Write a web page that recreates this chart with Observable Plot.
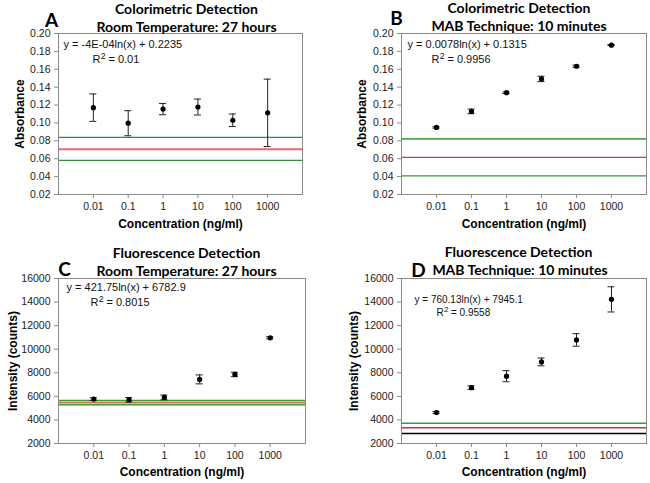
<!DOCTYPE html>
<html><head><meta charset="utf-8">
<script src="https://cdn.jsdelivr.net/npm/d3@7"></script>
<script src="https://cdn.jsdelivr.net/npm/@observablehq/plot@0.6"></script>
<style>
body{margin:0;background:#fff;}
#wrap{position:relative;width:650px;height:483px;overflow:hidden;background:#fff}
.panel{position:absolute}
.panel svg{display:block}
</style></head><body><div id="wrap"></div>
<script>
// ---- data ----
const concentrations = [0.01, 0.1, 1, 10, 100, 1000];
const xTickLabels = ["0.01", "0.1", "1", "10", "100", "1000"];
const absTicks = [0.02, 0.04, 0.06, 0.08, 0.10, 0.12, 0.14, 0.16, 0.18, 0.20];
const intTicks = [2000, 4000, 6000, 8000, 10000, 12000, 14000, 16000];

// A: colorimetric, room temperature
const absRT = [0.1171, 0.0997, 0.1155, 0.1178, 0.1030, 0.1113];
const absRTErr = [0.0153, 0.0140, 0.0063, 0.0089, 0.0070, 0.0377];
const absRTRefs = [0.0838, 0.0706, 0.0582];
// B: colorimetric, MAB
const absMAB = [0.0950, 0.1129, 0.1338, 0.1492, 0.1634, 0.1870];
const absMABErr = [0.0008, 0.0026, 0.0008, 0.0030, 0.0012, 0.0006];
const absMABRefs = [0.0821, 0.0614, 0.0408];
// C: fluorescence, room temperature
const fluRT = [5770, 5710, 5910, 7440, 7860, 10970];
const fluRTErr = [110, 190, 200, 380, 190, 90];
const fluRTRefs = [5660, 5470, 5290];
// D: fluorescence, MAB
const fluMAB = [4630, 6740, 7710, 8920, 10790, 14230];
const fluMABErr = [80, 150, 470, 330, 530, 1070];
const fluMABRefs = [3714, 3343, 2857];

const titles = [
  ["Colorimetric Detection", "Room Temperature: 27 hours"],
  ["Colorimetric Detection", "MAB Technique: 10 minutes"],
  ["Fluorescence Detection", "Room Temperature: 27 hours"],
  ["Fluorescence Detection", "MAB Technique: 10 minutes"]
];
const letters = ["A", "B", "C", "D"];
const equations = ["y = -4E-04ln(x) + 0.2235", "y = 0.0078ln(x) + 0.1315", "y = 421.75ln(x) + 6782.9", "y = 760.13ln(x) + 7945.1"];
const r2Values = ["= 0.01", "= 0.9956", "= 0.8015", "= 0.9558"];
const yLabels = ["Absorbance", "Absorbance", "Intensity (counts)", "Intensity (counts)"];
const xLabel = "Concentration (ng/ml)";

// ---- drawing ----
const SANS = "Liberation Sans, Arial, sans-serif";
const TITLE = "Lato, Open Sans, sans-serif";
const FRAME = "#8a8a8a";
const CAP = 1.26;

function T(str, o) {
  return Plot.text([str], {text: d => d, lineAnchor: "middle", fontFamily: SANS, fill: "#111", ...o});
}

function panel(cfg) {
  const data = concentrations.map((c, i) => ({
    x: c, y: cfg.values[i], lo: cfg.values[i] - cfg.errors[i], hi: cfg.values[i] + cfg.errors[i]
  }));
  const refMarks = cfg.refs.map((v, i) => Plot.ruleY([v], {stroke: cfg.refColors[i], strokeWidth: cfg.refWidths[i]}));
  const p = cfg.pos;
  const svg = Plot.plot({
    width: p.w, height: p.h,
    marginTop: p.mt, marginRight: p.mr, marginBottom: p.mb, marginLeft: p.ml,
    style: {fontFamily: SANS, fontSize: "10.5px", background: "white", color: "#222", overflow: "visible"},
    x: {type: "log", domain: [0.001, 10000]},
    y: {domain: cfg.yDomain},
    marks: [
      Plot.axisX({ticks: concentrations, tickFormat: d => xTickLabels[concentrations.indexOf(d)], tickSize: 4, tickPadding: 4, stroke: FRAME, fill: "#222", label: null, fontSize: 10.5, fontFamily: SANS}),
      Plot.axisY({ticks: cfg.yTicks, tickFormat: cfg.yFormat, tickSize: 4, tickPadding: 4, stroke: FRAME, fill: "#222", label: null, fontSize: 10.5, fontFamily: SANS}),
      ...refMarks,
      Plot.ruleX(data, {x: "x", y1: "lo", y2: "hi", stroke: "#222", strokeWidth: 1}),
      Plot.ruleY(data, {y: "hi", x1: d => d.x / CAP, x2: d => d.x * CAP, stroke: "#222", strokeWidth: 1}),
      Plot.ruleY(data, {y: "lo", x1: d => d.x / CAP, x2: d => d.x * CAP, stroke: "#222", strokeWidth: 1}),
      Plot.dot(data, {x: "x", y: "y", r: 2.6, fill: "#000", stroke: "none"}),
      Plot.frame({stroke: FRAME, strokeWidth: 1}),
      // titles
      T(titles[cfg.i][0], {frameAnchor: "top", textAnchor: "middle", dx: cfg.t.dx1, dy: cfg.t.dy1, fontFamily: TITLE, fontWeight: "bold", fontSize: 14, fill: "#000"}),
      T(titles[cfg.i][1], {frameAnchor: "top", textAnchor: "middle", dx: cfg.t.dx2, dy: cfg.t.dy2, fontFamily: TITLE, fontWeight: "bold", fontSize: 14, fill: "#000"}),
      T(letters[cfg.i], {frameAnchor: "top-left", textAnchor: "middle", dx: cfg.t.lx, dy: cfg.t.ly, fontFamily: TITLE, fontWeight: "bold", fontSize: 19, fill: "#000"}),
      // equation
      T(equations[cfg.i], {frameAnchor: "top-left", textAnchor: "start", dx: cfg.e.dx, dy: cfg.e.dy, fontSize: cfg.e.fs}),
      T("R", {frameAnchor: "top-left", textAnchor: "start", dx: cfg.e.rx, dy: cfg.e.ry, fontSize: cfg.e.fs}),
      T("2", {frameAnchor: "top-left", textAnchor: "start", dx: cfg.e.rx + cfg.e.fs * 0.74, dy: cfg.e.ry - cfg.e.fs * 0.3, fontSize: cfg.e.fs * 0.8}),
      T(r2Values[cfg.i], {frameAnchor: "top-left", textAnchor: "start", dx: cfg.e.rx + cfg.e.fs * 1.45, dy: cfg.e.ry, fontSize: cfg.e.fs}),
      // axis titles
      T(yLabels[cfg.i], {frameAnchor: "left", textAnchor: "middle", rotate: -90, dx: cfg.yl, fontWeight: "bold", fontSize: 12, fill: "#000"}),
      T(xLabel, {frameAnchor: "bottom", textAnchor: "middle", dy: cfg.xl, fontWeight: "bold", fontSize: 12, fill: "#000"})
    ]
  });
  const div = document.createElement("div");
  div.className = "panel";
  div.style.left = p.x + "px";
  div.style.top = p.y + "px";
  div.appendChild(svg);
  document.getElementById("wrap").appendChild(div);
}

const fmt2 = d => d.toFixed(2);
const fmt0 = d => String(d);

panel({i: 0, values: absRT, errors: absRTErr, refs: absRTRefs,
  refColors: ["#2f8f3a", "#ee6470", "#2f8f3a"], refWidths: [1.3, 2, 1.3],
  yDomain: [0.02, 0.20], yTicks: absTicks, yFormat: fmt2,
  pos: {x: 0, y: 0, w: 325, h: 240, mt: 33, mr: 23, mb: 46, ml: 58},
  t: {dx1: 6, dy1: -24, dx2: 6, dy2: -6, lx: -7, ly: -13},
  e: {dx: 5, dy: 11, fs: 11, rx: 34, ry: 26}, yl: -38, xl: 30});

panel({i: 1, values: absMAB, errors: absMABErr, refs: absMABRefs,
  refColors: ["#4aa552", "#d83a3a", "#3a9545"], refWidths: [1.8, 1.3, 1.3],
  yDomain: [0.02, 0.20], yTicks: absTicks, yFormat: fmt2,
  pos: {x: 325, y: 0, w: 325, h: 240, mt: 33, mr: 4, mb: 46, ml: 76},
  t: {dx1: -5, dy1: -25, dx2: -5, dy2: -7, lx: -5, ly: -15},
  e: {dx: 6, dy: 11, fs: 11, rx: 30, ry: 26}, yl: -39, xl: 30});

panel({i: 2, values: fluRT, errors: fluRTErr, refs: fluRTRefs,
  refColors: ["#3a9a45", "#d4703c", "#3a9a45"], refWidths: [1.3, 2, 1.3],
  yDomain: [2000, 16000], yTicks: intTicks, yFormat: fmt0,
  pos: {x: 0, y: 240, w: 325, h: 243, mt: 38, mr: 20, mb: 40, ml: 58},
  t: {dx1: 4.5, dy1: -25, dx2: 4.5, dy2: -7, lx: 6, ly: -9},
  e: {dx: 8, dy: 9, fs: 11, rx: 32, ry: 24}, yl: -45, xl: 29});

panel({i: 3, values: fluMAB, errors: fluMABErr, refs: fluMABRefs,
  refColors: ["#3a9a45", "#c8303a", "#000000"], refWidths: [1.5, 1.5, 1.5],
  yDomain: [2000, 16000], yTicks: intTicks, yFormat: fmt0,
  pos: {x: 325, y: 240, w: 325, h: 243, mt: 38, mr: 4, mb: 40, ml: 76},
  t: {dx1: -5.5, dy1: -26, dx2: -4, dy2: -8, lx: 17, ly: -8},
  e: {dx: 13, dy: 21, fs: 10, rx: 35, ry: 34}, yl: -47, xl: 29});
</script>
</body></html>
